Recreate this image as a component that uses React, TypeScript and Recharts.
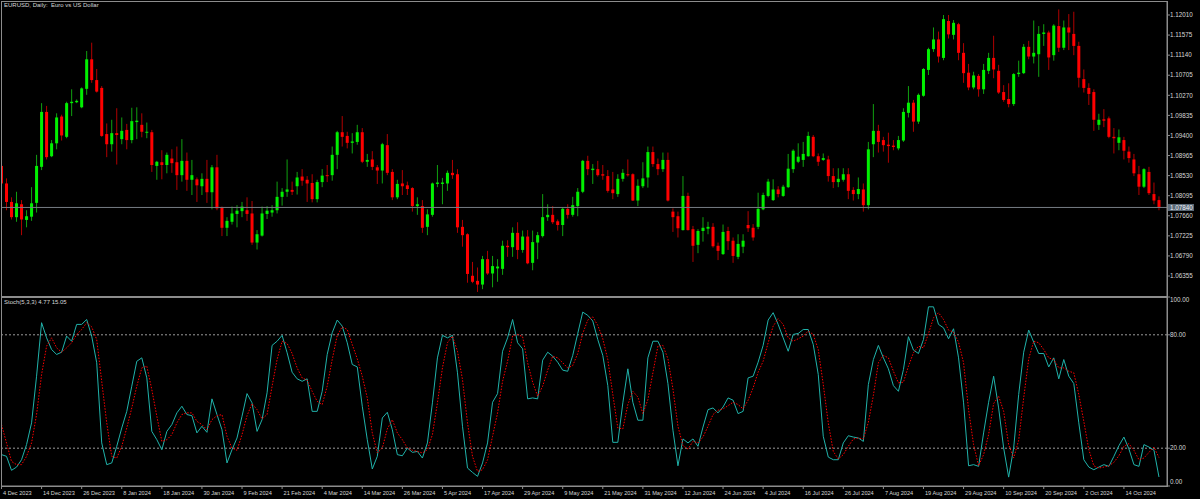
import { ComposedChart, Bar, Line, XAxis, YAxis, ReferenceLine } from "recharts";

// EURUSD daily candles (bar 0 = 4 Dec 2023)
const OPEN = [
  1.0874, 1.0836, 1.0796, 1.0763, 1.0791, 1.0757, 1.0764, 1.0794, 1.0872, 1.0991,
  1.0895, 1.0923, 1.0981, 1.0937, 1.101, 1.1012, 1.1001, 1.1041, 1.1105, 1.106,
  1.1043, 1.0943, 1.0921, 1.0945, 1.0932, 1.0952, 1.093, 1.0969, 1.0963, 1.0946,
  1.0947, 1.0874, 1.0882, 1.0876, 1.089, 1.0882, 1.0854, 1.0885, 1.0844, 1.0845,
  1.083, 1.0846, 1.0817, 1.0871, 1.0784, 1.074, 1.0753, 1.077, 1.0776, 1.0778,
  1.0771, 1.0708, 1.0723, 1.077, 1.0773, 1.0778, 1.0807, 1.0818, 1.0822, 1.083,
  1.0851, 1.0844, 1.0837, 1.0802, 1.0839, 1.0854, 1.0854, 1.0898, 1.0947, 1.0939,
  1.0924, 1.0926, 1.0947, 1.0883, 1.0888, 1.0871, 1.0864, 1.0919, 1.0861, 1.0806,
  1.0836, 1.0832, 1.0826, 1.0787, 1.0787, 1.0742, 1.0768, 1.0835, 1.0835, 1.0836,
  1.0859, 1.0856, 1.0742, 1.0726, 1.0636, 1.0625, 1.0617, 1.0672, 1.0641, 1.0652,
  1.0651, 1.0701, 1.0698, 1.0729, 1.0692, 1.0721, 1.0664, 1.0708, 1.0722, 1.0763,
  1.0768, 1.0754, 1.0746, 1.0781, 1.0768, 1.0787, 1.0818, 1.0885, 1.0865, 1.0867,
  1.0856, 1.0852, 1.0823, 1.0813, 1.0846, 1.0856, 1.0856, 1.0799, 1.083, 1.0849,
  1.0904, 1.0878, 1.0867, 1.0887, 1.0775, 1.0765, 1.0735, 1.0809, 1.0737, 1.0703,
  1.0733, 1.0738, 1.0742, 1.0701, 1.0683, 1.0733, 1.0712, 1.0677, 1.0699, 1.0746,
  1.074, 1.0742, 1.078, 1.0809, 1.08, 1.0823, 1.0809, 1.0828, 1.0867, 1.0883,
  1.0887, 1.0895, 1.0937, 1.0895, 1.0887, 1.0888, 1.0852, 1.0839, 1.0844, 1.0856,
  1.0822, 1.0813, 1.0823, 1.0789, 1.0921, 1.095, 1.093, 1.092, 1.0918, 1.0912,
  1.0929, 1.0989, 1.1011, 1.097, 1.1026, 1.1082, 1.1127, 1.1148, 1.1108, 1.1188,
  1.1158, 1.1181, 1.1119, 1.1076, 1.1044, 1.1069, 1.104, 1.108, 1.1108, 1.108,
  1.1034, 1.1019, 1.1008, 1.1073, 1.1075, 1.1132, 1.1111, 1.1116, 1.116, 1.1163,
  1.1114, 1.1177, 1.113, 1.1174, 1.116, 1.1134, 1.1062, 1.1043, 1.1034, 1.0963,
  1.0975, 1.0977, 1.0937, 1.0924, 1.093, 1.0905, 1.0888, 1.0856, 1.0829, 1.0861,
  1.0813, 1.08,
];
const HIGH = [
  1.0882, 1.0847, 1.0806, 1.0818, 1.08, 1.0778, 1.0828, 1.0898, 1.101, 1.1004,
  1.093, 1.0988, 1.0985, 1.1013, 1.104, 1.1018, 1.1044, 1.1123, 1.1141, 1.1084,
  1.1047, 1.0966, 1.0974, 1.0999, 1.0979, 1.0965, 1.1, 1.1001, 1.0988, 1.0968,
  1.0952, 1.0885, 1.0908, 1.0903, 1.091, 1.0916, 1.0932, 1.0903, 1.0887, 1.0849,
  1.0858, 1.0887, 1.0876, 1.0898, 1.0786, 1.0763, 1.0786, 1.0789, 1.0796, 1.0806,
  1.0798, 1.0735, 1.0786, 1.0787, 1.0789, 1.084, 1.0826, 1.0888, 1.084, 1.0861,
  1.0867, 1.0852, 1.0856, 1.0844, 1.0867, 1.0876, 1.0916, 1.095, 1.0982, 1.0948,
  1.0945, 1.0963, 1.0956, 1.09, 1.0906, 1.0876, 1.0924, 1.0943, 1.0867, 1.0844,
  1.0865, 1.084, 1.0828, 1.0806, 1.08, 1.078, 1.0838, 1.0876, 1.0848, 1.0864,
  1.0887, 1.0867, 1.0757, 1.0728, 1.0666, 1.0654, 1.0679, 1.069, 1.0679, 1.0672,
  1.0712, 1.0713, 1.0741, 1.0752, 1.0734, 1.0735, 1.0734, 1.0731, 1.0813, 1.0791,
  1.0787, 1.0758, 1.0784, 1.0791, 1.0807, 1.0826, 1.0887, 1.0896, 1.0878, 1.0885,
  1.0876, 1.0865, 1.0861, 1.0856, 1.0867, 1.0888, 1.0858, 1.0845, 1.0882, 1.0916,
  1.0916, 1.089, 1.0903, 1.0903, 1.0782, 1.0775, 1.0852, 1.0816, 1.0744, 1.0737,
  1.0763, 1.0753, 1.075, 1.0708, 1.0747, 1.0742, 1.0719, 1.0726, 1.0726, 1.0776,
  1.0748, 1.0816, 1.0816, 1.0846, 1.0845, 1.083, 1.0833, 1.09, 1.091, 1.0923,
  1.0926, 1.0948, 1.0941, 1.0901, 1.0901, 1.0896, 1.0869, 1.0869, 1.0869, 1.0869,
  1.0828, 1.0849, 1.0836, 1.0926, 1.1008, 1.0963, 1.0937, 1.0946, 1.093, 1.0939,
  1.0999, 1.1047, 1.1017, 1.1031, 1.1086, 1.113, 1.1174, 1.1165, 1.1201, 1.1201,
  1.119, 1.1184, 1.114, 1.1095, 1.1078, 1.1073, 1.1095, 1.1119, 1.1156, 1.1093,
  1.1049, 1.1053, 1.1075, 1.1102, 1.1138, 1.1145, 1.1189, 1.1177, 1.1181, 1.1167,
  1.1181, 1.1213, 1.1189, 1.1203, 1.1208, 1.1143, 1.1083, 1.1053, 1.104, 1.0987,
  1.0997, 1.0981, 1.0956, 1.0953, 1.0937, 1.0916, 1.09, 1.0874, 1.0869, 1.0872,
  1.0838, 1.0808,
];
const LOW = [
  1.083, 1.0778, 1.0758, 1.0753, 1.0724, 1.0741, 1.0755, 1.0773, 1.0865, 1.0888,
  1.0893, 1.091, 1.0929, 1.0934, 1.0982, 1.101, 1.0999, 1.1028, 1.1054, 1.1033,
  1.0937, 1.0893, 1.0905, 1.0877, 1.0921, 1.091, 1.0923, 1.0932, 1.0936, 1.0934,
  1.0861, 1.0844, 1.0845, 1.0858, 1.0859, 1.0822, 1.084, 1.082, 1.0811, 1.0796,
  1.0811, 1.0794, 1.078, 1.0778, 1.0722, 1.0722, 1.0747, 1.0741, 1.0763, 1.0755,
  1.0703, 1.0693, 1.0721, 1.0759, 1.0764, 1.0771, 1.0788, 1.0807, 1.0811, 1.0812,
  1.0831, 1.0796, 1.0795, 1.0795, 1.0828, 1.0839, 1.0842, 1.0867, 1.0916, 1.0912,
  1.0901, 1.092, 1.088, 1.0872, 1.0865, 1.0835, 1.0836, 1.0854, 1.08, 1.0802,
  1.0811, 1.0811, 1.0775, 1.0768, 1.0729, 1.0724, 1.0764, 1.0828, 1.0791, 1.082,
  1.0846, 1.0729, 1.0699, 1.0621, 1.062, 1.0601, 1.0607, 1.0638, 1.0611, 1.0623,
  1.0638, 1.0677, 1.0677, 1.0672, 1.0686, 1.0661, 1.0648, 1.0672, 1.0719, 1.0755,
  1.0748, 1.0734, 1.0722, 1.076, 1.0764, 1.0765, 1.0815, 1.0854, 1.0835, 1.0851,
  1.0844, 1.0816, 1.0802, 1.0807, 1.084, 1.0851, 1.0798, 1.0787, 1.0826, 1.0827,
  1.0872, 1.0854, 1.0861, 1.0797, 1.0731, 1.0719, 1.0734, 1.0734, 1.0666, 1.0685,
  1.071, 1.0726, 1.0697, 1.067, 1.0681, 1.0692, 1.0664, 1.0672, 1.0685, 1.0731,
  1.0712, 1.0737, 1.0778, 1.0806, 1.0798, 1.0806, 1.0807, 1.0826, 1.0859, 1.088,
  1.0872, 1.0894, 1.0893, 1.0874, 1.0885, 1.084, 1.0826, 1.0828, 1.084, 1.0802,
  1.0799, 1.0802, 1.0775, 1.078, 1.0893, 1.0903, 1.0905, 1.0881, 1.0908, 1.0908,
  1.0926, 1.0979, 1.0948, 1.0965, 1.1024, 1.1071, 1.1121, 1.1098, 1.1103, 1.115,
  1.1148, 1.1103, 1.1054, 1.1038, 1.104, 1.1024, 1.103, 1.1073, 1.1064, 1.103,
  1.1013, 1.1001, 1.1004, 1.1067, 1.1073, 1.1105, 1.1096, 1.1067, 1.1134, 1.1082,
  1.1102, 1.1121, 1.1125, 1.1125, 1.1114, 1.1044, 1.1033, 1.1006, 1.095, 1.0952,
  1.0958, 1.0934, 1.0901, 1.0908, 1.0888, 1.0881, 1.0852, 1.0811, 1.0826, 1.0811,
  1.0791, 1.0778,
];
const CLOSE = [
  1.0836, 1.0796, 1.0763, 1.0793, 1.0758, 1.0765, 1.0793, 1.0874, 1.0991, 1.0893,
  1.0923, 1.0979, 1.094, 1.101, 1.1013, 1.1015, 1.1042, 1.1105, 1.106, 1.1035,
  1.0939, 1.0921, 1.0945, 1.0941, 1.095, 1.093, 1.0971, 1.0972, 1.0948, 1.0948,
  1.0876, 1.0883, 1.0876, 1.0898, 1.088, 1.0854, 1.0885, 1.0844, 1.0854, 1.0832,
  1.0846, 1.0817, 1.0871, 1.0782, 1.074, 1.0755, 1.0771, 1.0777, 1.0786, 1.077,
  1.0708, 1.0726, 1.0771, 1.0777, 1.0778, 1.0807, 1.0818, 1.0823, 1.0818, 1.0849,
  1.0842, 1.0836, 1.0802, 1.0839, 1.0853, 1.0852, 1.0898, 1.0947, 1.0937, 1.0924,
  1.0927, 1.0947, 1.0883, 1.0887, 1.0872, 1.0864, 1.0921, 1.0859, 1.0806, 1.0835,
  1.083, 1.0824, 1.0787, 1.0791, 1.074, 1.0769, 1.0836, 1.0838, 1.0838, 1.0859,
  1.0854, 1.0741, 1.0724, 1.064, 1.0623, 1.0617, 1.0672, 1.0641, 1.0657, 1.0656,
  1.0701, 1.0698, 1.0729, 1.0692, 1.0721, 1.0663, 1.0709, 1.0724, 1.0763, 1.0768,
  1.0752, 1.0746, 1.0781, 1.0768, 1.0789, 1.0818, 1.0885, 1.0867, 1.0868, 1.0854,
  1.0853, 1.082, 1.0815, 1.0846, 1.0859, 1.0854, 1.0799, 1.0831, 1.0847, 1.0904,
  1.0878, 1.0867, 1.0887, 1.0799, 1.0763, 1.0739, 1.0809, 1.0735, 1.0701, 1.0733,
  1.074, 1.0742, 1.07, 1.069, 1.0731, 1.0711, 1.0679, 1.0705, 1.0712, 1.0739,
  1.0719, 1.0781, 1.0811, 1.084, 1.0823, 1.0813, 1.0829, 1.0868, 1.0907, 1.0894,
  1.09, 1.0939, 1.0895, 1.0883, 1.0891, 1.0852, 1.0839, 1.0846, 1.0856, 1.082,
  1.0813, 1.0824, 1.0789, 1.091, 1.095, 1.0926, 1.0919, 1.0917, 1.0915, 1.093,
  1.0991, 1.1011, 1.097, 1.1028, 1.1084, 1.1127, 1.1148, 1.1111, 1.1192, 1.1159,
  1.1184, 1.1119, 1.1075, 1.1044, 1.107, 1.104, 1.1082, 1.1108, 1.1083, 1.1033,
  1.1017, 1.1008, 1.1073, 1.1076, 1.1132, 1.1111, 1.1119, 1.116, 1.1163, 1.1109,
  1.1178, 1.113, 1.1174, 1.1163, 1.1134, 1.1065, 1.1043, 1.103, 1.0974, 1.0974,
  1.0972, 1.0937, 1.0934, 1.0936, 1.0907, 1.0891, 1.0858, 1.0829, 1.0867, 1.0815,
  1.0799, 1.0784,
];

// Stochastic(5,3,3): main (%K) and signal (%D)
const STOCH_K = [
  16.6, 15.7, 8.3, 10.0, 13.9, 21.9, 33.4, 58.1, 86.4, 78.4,
  72.2, 69.6, 70.8, 79.3, 76.6, 85.5, 85.5, 88.1, 79.3, 65.2,
  22.8, 11.3, 12.2, 21.0, 30.7, 39.5, 52.8, 66.0, 67.8, 57.2,
  28.9, 24.5, 19.2, 28.9, 32.5, 38.7, 42.2, 37.8, 37.2, 28.1,
  31.6, 28.4, 46.1, 37.8, 29.8, 12.2, 19.2, 25.4, 36.9, 48.9,
  44.0, 28.9, 35.1, 49.3, 74.4, 76.6, 79.7, 70.5, 60.2, 56.7,
  55.4, 56.7, 39.5, 39.5, 50.1, 69.6, 81.1, 87.8, 84.6, 75.8,
  64.3, 63.0, 42.2, 24.5, 9.0, 15.7, 36.0, 39.0, 29.8, 16.6,
  16.0, 20.1, 17.8, 18.3, 14.8, 22.8, 44.0, 67.8, 79.7, 78.4,
  79.7, 59.9, 31.6, 9.5, 7.2, 5.1, 12.2, 22.8, 44.3, 48.9,
  71.3, 78.4, 88.1, 75.8, 72.6, 46.1, 46.6, 46.1, 66.6, 70.8,
  68.7, 65.5, 61.3, 60.7, 69.1, 80.7, 92.0, 90.3, 87.3, 77.5,
  69.1, 53.1, 23.1, 23.1, 44.0, 62.0, 44.3, 34.8, 34.8, 67.8,
  76.6, 76.6, 70.8, 54.2, 29.5, 10.7, 24.9, 22.8, 24.9, 21.0,
  31.2, 40.4, 41.3, 38.7, 41.8, 46.6, 45.4, 38.3, 39.5, 57.2,
  58.1, 65.5, 74.4, 87.8, 91.7, 85.5, 78.4, 71.3, 80.2, 80.7,
  82.8, 82.8, 74.9, 59.0, 26.3, 15.3, 13.9, 13.9, 22.8, 26.6,
  25.9, 25.4, 23.6, 53.7, 66.9, 74.4, 67.8, 62.0, 53.1, 50.1,
  61.6, 79.0, 71.9, 70.1, 77.5, 94.8, 94.8, 85.5, 83.7, 77.9,
  83.2, 67.8, 44.0, 10.7, 11.3, 10.4, 28.1, 44.3, 58.1, 41.3,
  20.1, 4.7, 20.1, 48.4, 70.8, 82.5, 76.1, 70.1, 70.1, 63.0,
  67.8, 56.7, 66.9, 58.1, 54.2, 33.4, 13.9, 10.0, 8.6, 10.0,
  11.3, 10.4, 15.7, 21.3, 25.9, 19.6, 11.3, 10.4, 21.9, 20.6,
  18.9, 4.77,
];
const STOCH_D = [
  32.5, 22.8, 13.0, 11.3, 11.3, 15.7, 22.8, 37.8, 59.0, 74.0,
  78.4, 73.1, 70.8, 73.1, 75.8, 80.2, 82.8, 86.4, 84.2, 77.5,
  55.4, 33.4, 15.7, 14.8, 21.0, 30.7, 41.3, 52.8, 62.5, 63.4,
  51.0, 36.9, 23.6, 24.5, 27.2, 33.4, 37.8, 38.7, 38.7, 34.2,
  32.5, 29.8, 35.1, 37.2, 37.8, 26.3, 20.1, 18.9, 27.2, 37.2,
  43.6, 40.4, 35.5, 37.8, 52.8, 66.9, 76.6, 75.4, 70.1, 62.5,
  57.2, 56.0, 50.1, 44.8, 43.1, 52.8, 66.9, 79.7, 84.2, 82.8,
  74.9, 67.3, 58.1, 46.6, 28.1, 17.5, 20.1, 30.2, 35.1, 28.1,
  24.5, 20.1, 18.9, 18.3, 17.5, 19.2, 27.2, 44.0, 62.5, 75.8,
  79.3, 71.3, 56.3, 33.4, 15.7, 7.7, 8.6, 13.9, 26.3, 38.7,
  55.4, 66.0, 79.3, 80.2, 79.0, 65.2, 54.9, 47.5, 52.8, 61.3,
  68.7, 67.8, 65.2, 62.5, 63.7, 70.1, 80.7, 87.8, 89.5, 85.0,
  77.9, 66.9, 48.4, 30.7, 30.2, 43.1, 50.1, 47.1, 38.3, 45.7,
  59.9, 74.0, 74.4, 67.3, 51.4, 31.6, 21.3, 19.6, 23.6, 22.8,
  25.9, 31.6, 37.8, 40.1, 40.8, 42.5, 44.3, 43.1, 40.8, 45.4,
  51.9, 60.2, 66.0, 75.8, 84.6, 88.5, 85.5, 78.4, 76.6, 77.9,
  79.3, 82.0, 80.2, 72.2, 53.7, 33.4, 18.3, 14.3, 16.6, 21.0,
  24.9, 25.4, 24.9, 33.7, 47.9, 65.2, 69.1, 67.8, 60.7, 54.6,
  54.9, 63.4, 70.5, 74.0, 73.1, 80.7, 89.0, 91.7, 88.1, 82.5,
  81.4, 76.1, 65.2, 40.4, 21.9, 10.7, 16.6, 27.2, 43.6, 47.5,
  39.5, 21.9, 14.8, 24.2, 46.6, 67.3, 76.6, 75.8, 72.2, 67.8,
  66.9, 62.5, 62.5, 60.7, 59.9, 48.4, 34.2, 19.2, 10.7, 9.5,
  10.0, 10.7, 12.5, 16.0, 21.0, 22.4, 18.9, 13.9, 14.8, 17.8,
  20.6, 15.05,
];

const PRICE_TICKS = [
  1.06355, 1.0679, 1.07225, 1.0766, 1.08095, 1.0853, 1.08965,
  1.094, 1.09835, 1.1027, 1.10705, 1.1114, 1.11575, 1.1201,
];
const STOCH_TICKS = [0, 20, 80, 100];
const DATE_TICKS = [
  0, 8, 16, 24, 32, 40, 48, 56, 64, 72, 80, 88, 96, 104, 112,
  120, 128, 136, 144, 152, 160, 168, 176, 184, 192, 200, 208, 216, 224,
];
const DATE_LABELS = [
  "4 Dec 2023", "14 Dec 2023", "26 Dec 2023", "8 Jan 2024", "18 Jan 2024",
  "30 Jan 2024", "9 Feb 2024", "21 Feb 2024", "4 Mar 2024", "14 Mar 2024",
  "26 Mar 2024", "5 Apr 2024", "17 Apr 2024", "29 Apr 2024", "9 May 2024",
  "21 May 2024", "31 May 2024", "12 Jun 2024", "24 Jun 2024", "4 Jul 2024",
  "16 Jul 2024", "26 Jul 2024", "7 Aug 2024", "19 Aug 2024", "29 Aug 2024",
  "10 Sep 2024", "20 Sep 2024", "2 Oct 2024", "14 Oct 2024",
];
const LAST_PRICE = 1.0784;

const candles = OPEN.map((o, i) => ({ i, open: o, high: HIGH[i], low: LOW[i], close: CLOSE[i] }));
const stoch = STOCH_K.map((k, i) => ({ i, k, d: STOCH_D[i] }));

const FONT = "'Liberation Sans', Arial, sans-serif";
const FRAME = "#8c8c8c";
const TEXT = "#d6d6d6";
const X_DOMAIN = [-0.1, 232.6];

function Candle(props: any) {
  const { x, y, width, height, payload } = props;
  if (x == null || y == null) return null;
  const { open, close, high, low } = payload;
  const cx = x + width / 2;
  const span = high - low;
  const py = (p: number) => (span === 0 ? y : y + ((high - p) / span) * height);
  const up = close >= open;
  const top = py(Math.max(open, close));
  const bot = py(Math.min(open, close));
  return (
    <g>
      <line x1={cx} x2={cx} y1={y} y2={y + height} stroke={up ? "#10a010" : "#b00000"} strokeWidth={1} />
      <rect x={cx - 1.5} y={top} width={3} height={Math.max(1, bot - top)} fill={up ? "#00f000" : "#ff0000"} />
    </g>
  );
}

function PriceTag(props: any) {
  const vb = props.viewBox || {};
  const x = vb.x + vb.width + 1;
  const y = vb.y;
  return (
    <g>
      <rect x={x} y={y - 3.5} width={26} height={7} fill="#5b6977" />
      <text x={x + 2} y={y + 2.2} fill="#eef2f6" fontSize={6.3} fontFamily={FONT}>
        {LAST_PRICE.toFixed(5)}
      </text>
    </g>
  );
}

function StochTick(props: any) {
  const { x, y, payload } = props;
  const v = payload.value;
  const cy = v === 100 ? y + 3 : v === 0 ? y - 4 : y;
  return (
    <text x={x} y={cy + 2.2} fill={TEXT} fontSize={6.3} fontFamily={FONT}>
      {v.toFixed(2)}
    </text>
  );
}

function DateTick(props: any) {
  const { x, y, payload } = props;
  const idx = DATE_TICKS.indexOf(payload.value);
  return (
    <text x={x + 1.5} y={y + 5.5} fill={TEXT} fontSize={5.6} fontFamily={FONT}>
      {DATE_LABELS[idx]}
    </text>
  );
}

export default function App() {
  return (
    <div style={{ position: "relative", width: 1200, height: 499, background: "#000", overflow: "hidden" }}>
      <style>{"body{margin:0;background:#000}"}</style>

      <div style={{ position: "absolute", left: 0, top: 0 }}>
        <ComposedChart width={1200} height={298} data={candles} margin={{ top: 1, right: 0, bottom: 2, left: 1 }}>
          <XAxis type="number" dataKey="i" domain={X_DOMAIN} allowDataOverflow hide />
          <YAxis
            orientation="right"
            width={33}
            domain={[1.05922, 1.12313]}
            allowDataOverflow
            ticks={PRICE_TICKS}
            interval={0}
            tickFormatter={(v: number) => v.toFixed(5)}
            tick={{ fill: TEXT, fontSize: 6.3, fontFamily: FONT }}
            tickSize={3}
            tickMargin={0}
            stroke={FRAME}
          />
          <ReferenceLine y={LAST_PRICE} stroke="#767c83" strokeWidth={1} label={<PriceTag />} />
          <Bar
            dataKey={(d: any) => [d.low, d.high]}
            barSize={3}
            shape={(p: any) => <Candle {...p} />}
            isAnimationActive={false}
          />
        </ComposedChart>
      </div>

      <div style={{ position: "absolute", left: 0, top: 296 }}>
        <ComposedChart width={1200} height={203} data={stoch} margin={{ top: 1, right: 0, bottom: 0, left: 1 }}>
          <XAxis
            type="number"
            dataKey="i"
            domain={X_DOMAIN}
            allowDataOverflow
            ticks={DATE_TICKS}
            interval={0}
            height={13}
            tickSize={3}
            tickMargin={0}
            stroke={FRAME}
            tick={<DateTick />}
          />
          <YAxis
            orientation="right"
            width={33}
            domain={[0, 100]}
            ticks={STOCH_TICKS}
            interval={0}
            tickSize={3}
            tickMargin={0}
            stroke={FRAME}
            tick={<StochTick />}
          />
          <ReferenceLine y={80} stroke="#9a9a9a" strokeDasharray="2 2" />
          <ReferenceLine y={20} stroke="#9a9a9a" strokeDasharray="2 2" />
          <Line type="linear" dataKey="k" stroke="#20b2aa" strokeWidth={1} dot={false} isAnimationActive={false} />
          <Line
            type="linear"
            dataKey="d"
            stroke="#ff0000"
            strokeWidth={1}
            strokeDasharray="1.5 1.5"
            dot={false}
            isAnimationActive={false}
          />
        </ComposedChart>
      </div>

      <div style={{ position: "absolute", left: 1, top: 1, width: 1167, height: 296, border: `1px solid ${FRAME}`, boxSizing: "border-box", pointerEvents: "none" }} />
      <div style={{ position: "absolute", left: 1, top: 297, width: 1167, height: 190, border: `1px solid ${FRAME}`, boxSizing: "border-box", pointerEvents: "none" }} />

      <div style={{ position: "absolute", left: 4, top: 2, color: TEXT, fontSize: 6, fontFamily: FONT, whiteSpace: "pre", lineHeight: "7px" }}>
        {"EURUSD, Daily:  Euro vs US Dollar"}
      </div>
      <div style={{ position: "absolute", left: 4, top: 299, color: TEXT, fontSize: 6, fontFamily: FONT, whiteSpace: "pre", lineHeight: "7px" }}>
        {"Stoch(5,3,3) 4.77 15.05"}
      </div>
    </div>
  );
}
